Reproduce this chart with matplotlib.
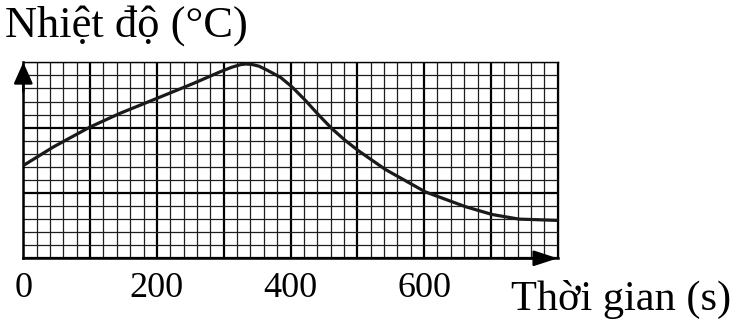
import matplotlib
matplotlib.use("Agg")
import matplotlib.pyplot as plt
import numpy as np

# Data
time_s = [0, 45, 100, 145, 200, 255, 295, 312, 325, 333, 342, 353, 365, 385, 402, 422, 442, 462,
          482, 502, 542, 602, 662, 702, 742, 800]
temp = [7.1, 8.52, 10.05, 11.1, 12.24, 13.39, 14.28, 14.62, 14.82, 14.87, 14.84, 14.7, 14.4, 13.85,
        13.13, 12.1, 10.98, 9.92, 9.02, 8.22, 6.8, 5.08, 3.95, 3.35, 3.0, 2.9]
xtick_vals = [0, 200, 400, 600]
x_max = 800
y_max = 15
ylabel_text = "Nhiệt độ (°C)"
xlabel_text = "Thời gian (s)"

plt.rcParams['font.family'] = ['Liberation Serif', 'DejaVu Serif']

fig = plt.figure(figsize=(7.39, 3.25), dpi=100)
W, H = 739, 325
ax = fig.add_axes([23.3 / W, 66.7 / H, 534.4 / W, 196 / H])
ax.set_xlim(0, x_max)
ax.set_ylim(0, y_max)

# grid
major_x = np.arange(0, x_max + 1, 100)
ax.set_xticks(major_x)
ax.set_xticks(np.arange(0, x_max + 1, 20), minor=True)
ax.set_yticks(np.arange(0, y_max + 1, 5))
ax.set_yticks(np.arange(0, y_max + 1, 1), minor=True)
ax.grid(which='minor', color='#1e1e1e', linewidth=0.9)
ax.grid(which='major', color='black', linewidth=1.6)
ax.set_axisbelow(True)
ax.set_xticklabels([str(v) if v in xtick_vals else "" for v in major_x])
ax.tick_params(which='both', length=0)
ax.tick_params(axis='x', labelsize=26, pad=10)
ax.set_yticklabels([])
for s in ['top', 'right']:
    ax.spines[s].set_linewidth(1.0)
for s in ['left', 'bottom']:
    ax.spines[s].set_linewidth(1.8)

ax.plot(time_s, temp, color='#1a1a1a', linewidth=2.3, solid_joinstyle='round',
        solid_capstyle='butt', zorder=5, clip_on=False)

# axis arrows
ax.annotate('', xy=(0, 1), xytext=(0, 0.85), xycoords='axes fraction',
            arrowprops=dict(arrowstyle='-|>,head_length=1.3,head_width=0.58', mutation_scale=10,
                            color='black', lw=1.8, shrinkA=0, shrinkB=0), annotation_clip=False)
ax.annotate('', xy=(1, 0), xytext=(0.9, 0), xycoords='axes fraction',
            arrowprops=dict(arrowstyle='-|>,head_length=1.44,head_width=0.47', mutation_scale=10,
                            color='black', lw=1.8, shrinkA=0, shrinkB=0), annotation_clip=False)

fig.text(5 / W, 1 - 37 / H, ylabel_text, fontsize=32, va='baseline', ha='left')
fig.text(511 / W, 1 - 310 / H, xlabel_text, fontsize=30.5, va='baseline', ha='left')

fig.savefig('out.png', dpi=100)
